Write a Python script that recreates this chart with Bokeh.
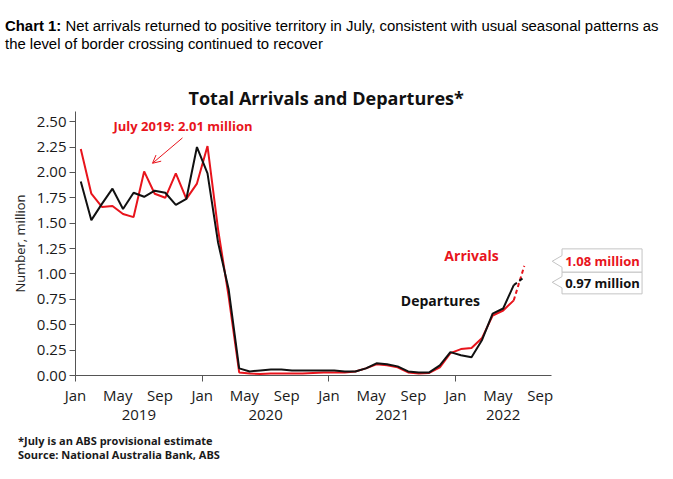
from bokeh.plotting import figure
from bokeh.models import (LinearAxis, FixedTicker, Range1d, Label, Arrow, OpenHead,
                          ColumnDataSource, PrintfTickFormatter, Div)
from bokeh.layouts import column
from bokeh.embed import file_html
from bokeh.resources import INLINE

# ---------------- data (monthly, Jan 2019 .. Jul 2022, million) ----------------
month_names = ["Jan", "Feb", "Mar", "Apr", "May", "Jun", "Jul", "Aug", "Sep", "Oct", "Nov", "Dec"]
months = [f"{m} {y}" for y in (2019, 2020, 2021, 2022) for m in month_names][:43]

arrivals = [2.23, 1.79, 1.66, 1.67, 1.59, 1.56, 2.01, 1.79, 1.75, 1.99, 1.74, 1.89,
            2.26, 1.44, 0.78, 0.03, 0.02, 0.015, 0.02, 0.02, 0.02, 0.02, 0.025, 0.03,
            0.03, 0.03, 0.04, 0.07, 0.11, 0.10, 0.08, 0.03, 0.02, 0.025, 0.08, 0.22,
            0.26, 0.27, 0.37, 0.59, 0.64, 0.74, 1.08]
departures = [1.91, 1.53, 1.69, 1.84, 1.64, 1.80, 1.76, 1.82, 1.80, 1.68, 1.74, 2.25,
              1.99, 1.31, 0.85, 0.07, 0.04, 0.05, 0.06, 0.06, 0.05, 0.05, 0.05, 0.05,
              0.05, 0.04, 0.04, 0.07, 0.12, 0.11, 0.09, 0.04, 0.03, 0.03, 0.10, 0.23,
              0.20, 0.18, 0.35, 0.61, 0.66, 0.89, 0.97]

month_tick_pos = [0, 4, 8, 12, 16, 20, 24, 28, 32, 36, 40, 44]
month_tick_labels = ["Jan", "May", "Sep"] * 4
year_tick_pos = [6, 18, 30, 40.5]
year_tick_labels = ["2019", "2020", "2021", "2022"]
y_ticks = [0, 0.25, 0.5, 0.75, 1.0, 1.25, 1.5, 1.75, 2.0, 2.25, 2.5]

header_bold = "Chart 1:"
header_line1 = "Net arrivals returned to positive territory in July, consistent with usual seasonal patterns as"
header_line2 = "the level of border crossing continued to recover"
chart_title = "Total Arrivals and Departures*"
footnotes = ["*July is an ABS provisional estimate", "Source: National Australia Bank, ABS"]

RED = "#e8141c"
BLACK = "#111111"
AXIS = "#555555"
FONT = "Open Sans"

x = [i + 0.5 for i in range(len(months))]
n_solid = len(months) - 1  # last month (July) is provisional -> dashed

solid = ColumnDataSource(dict(x=x[:n_solid], arr=arrivals[:n_solid], dep=departures[:n_solid]))
dashed = ColumnDataSource(dict(x=x[n_solid - 1:], arr=arrivals[n_solid - 1:], dep=departures[n_solid - 1:]))

W = 665
header = Div(text=(f"<div style='padding:17px 0 0 5px; font-family:\"Liberation Sans\", Arial, sans-serif; "
                   f"font-size:14.9px; line-height:18px; color:#000; white-space:nowrap; "
                   f"width:660px;'>"
                   f"<span style='font-weight:bold'>{header_bold}</span><span> {header_line1}</span><br>"
                   f"<span>{header_line2}</span></div>"),
             width=W, height=58, margin=(0, 0, 0, 0))

p = figure(width=W, height=372, x_range=Range1d(0, 55.87), y_range=Range1d(0, 2.6),
           output_backend="svg", toolbar_location=None,
           x_axis_type=None, y_axis_type=None, title=chart_title,
           min_border_left=75, min_border_right=0, min_border_top=53, min_border_bottom=55,
           margin=(0, 0, 0, 0))
p.outline_line_color = None
p.background_fill_color = "white"
p.border_fill_color = "white"
p.title.align = "left"
p.title.offset = 113
p.title.standoff = 3
p.title.text_font = FONT
p.title.text_font_size = "18px"
p.title.text_font_style = "bold"
p.title.text_color = "#111111"

# ---------------- axes ----------------
xaxis = LinearAxis(ticker=FixedTicker(ticks=month_tick_pos, minor_ticks=[0, 12, 24, 36]),
                   bounds=(0, 45.1),
                   major_label_overrides={k: v for k, v in zip(month_tick_pos, month_tick_labels)})
xaxis.axis_line_color = AXIS
xaxis.major_tick_line_color = None
xaxis.major_tick_out = 6
xaxis.major_tick_in = 0
xaxis.minor_tick_line_color = AXIS
xaxis.minor_tick_out = 6
xaxis.minor_tick_in = 0
xaxis.major_label_standoff = 3
xaxis.major_label_text_font = FONT
xaxis.major_label_text_font_size = "15px"
xaxis.major_label_text_color = "#1a1a1a"
p.add_layout(xaxis, "below")

yearaxis = LinearAxis(ticker=FixedTicker(ticks=year_tick_pos, minor_ticks=[]),
                      major_label_overrides={k: v for k, v in zip(year_tick_pos, year_tick_labels)})
yearaxis.axis_line_color = None
yearaxis.major_tick_line_color = None
yearaxis.minor_tick_line_color = None
yearaxis.major_tick_out = 0
yearaxis.major_tick_in = 0
yearaxis.minor_tick_out = 0
yearaxis.major_label_standoff = 2
yearaxis.major_label_text_font = FONT
yearaxis.major_label_text_font_size = "15px"
yearaxis.major_label_text_color = "#1a1a1a"
p.add_layout(yearaxis, "below")

yaxis = LinearAxis(ticker=FixedTicker(ticks=y_ticks, minor_ticks=[]), bounds=(0, 2.6),
                   formatter=PrintfTickFormatter(format="%.2f"))
yaxis.axis_line_color = AXIS
yaxis.major_tick_line_color = AXIS
yaxis.major_tick_out = 6
yaxis.major_tick_in = 0
yaxis.minor_tick_line_color = None
yaxis.major_label_standoff = 3
yaxis.major_label_text_font = FONT
yaxis.major_label_text_font_size = "15px"
yaxis.major_label_text_color = "#1a1a1a"
yaxis.axis_label = "Number, million"
yaxis.axis_label_text_font = FONT
yaxis.axis_label_text_font_size = "13px"
yaxis.axis_label_text_font_style = "normal"
yaxis.axis_label_text_color = "#222222"
yaxis.axis_label_standoff = 5
p.add_layout(yaxis, "left")

# ---------------- series ----------------
p.line("x", "arr", source=solid, color=RED, line_width=2)
p.line("x", "dep", source=solid, color=BLACK, line_width=2)
p.line("x", "arr", source=dashed, color=RED, line_width=2, line_dash="4 3")
p.line("x", "dep", source=dashed, color=BLACK, line_width=2, line_dash="4 3")

# ---------------- callout boxes ----------------
bx0, bx1, tip = 46.07, 53.65, 45.14
boxes = dict(
    xs=[[bx0, bx1, bx1, bx0, bx0, tip, bx0], [bx0, bx1, bx1, bx0, bx0, tip, bx0]],
    ys=[[1.247, 1.247, 1.017, 1.017, 1.066, 1.125, 1.181],
        [1.017, 1.017, 0.804, 0.804, 0.863, 0.918, 0.974]],
)
p.patches("xs", "ys", source=ColumnDataSource(boxes), fill_color="white",
          line_color="#c4c4c4", line_width=1)


def lab(text, xx, yy, size, color="#1a1a1a", bold=False, align="center", font=FONT):
    p.add_layout(Label(x=xx, y=yy, text=text, text_font=font, text_font_size=size,
                       text_color=color, text_font_style="bold" if bold else "normal",
                       text_align=align, text_baseline="middle"))


lab(f"{arrivals[-1]:.2f} million", 49.9, 1.128, "13px", RED, True)
lab(f"{departures[-1]:.2f} million", 49.9, 0.915, "13px", BLACK, True)

# ---------------- annotations ----------------
lab("Arrivals", 37.5, 1.18, "14px", RED, True)
lab("Departures", 34.56, 0.74, "14px", BLACK, True)
lab(f"July 2019: {arrivals[6]:.2f} million", 10.18, 2.46, "13px", RED, True)
p.add_layout(Arrow(end=OpenHead(size=8, line_color=RED, line_width=1),
                   x_start=10.13, y_start=2.34, x_end=7.29, y_end=2.09,
                   line_color=RED, line_width=1))

footer = Div(text="<div style='padding:4px 0 0 18px; font-family:\"Open Sans\", sans-serif; "
                  "font-size:11px; font-weight:bold; line-height:14px; color:#1a1a1a;'>"
                  + "<br>".join(footnotes) + "</div>",
             width=W, height=40, margin=(0, 0, 0, 0))

layout = column(header, p, footer, spacing=0)
open("out.html", "w").write(file_html(layout, INLINE))
